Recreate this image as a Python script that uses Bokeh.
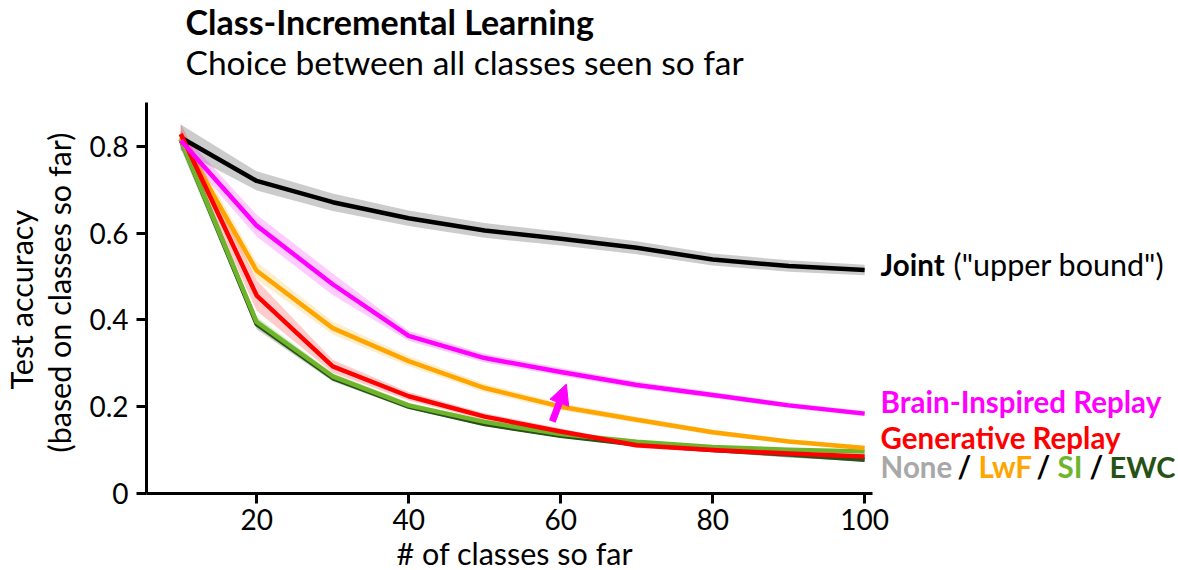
import math

from bokeh.embed import file_html
from bokeh.models import Arrow, FixedTicker, Label, NormalHead, Range1d, Title
from bokeh.plotting import figure
from bokeh.resources import INLINE

# ---- data: mean test accuracy (and shaded spread) per number of classes ----
n_classes = [10, 20, 30, 40, 50, 60, 70, 80, 90, 100]

joint_acc = [0.820, 0.720, 0.671, 0.634, 0.606, 0.587, 0.566, 0.539, 0.524, 0.515]
joint_sd = [0.030, 0.022, 0.020, 0.018, 0.017, 0.016, 0.015, 0.014, 0.013, 0.012]

none_acc = [0.815, 0.392, 0.268, 0.201, 0.161, 0.134, 0.114, 0.101, 0.088, 0.079]
none_sd = [0.020, 0.012, 0.008, 0.006, 0.005, 0.004, 0.004, 0.003, 0.003, 0.003]

ewc_acc = [0.815, 0.390, 0.266, 0.200, 0.160, 0.133, 0.113, 0.100, 0.090, 0.078]
ewc_sd = [0.020, 0.012, 0.008, 0.006, 0.005, 0.004, 0.004, 0.003, 0.003, 0.003]

si_acc = [0.815, 0.395, 0.270, 0.203, 0.165, 0.137, 0.119, 0.107, 0.101, 0.097]
si_sd = [0.020, 0.012, 0.008, 0.006, 0.005, 0.004, 0.004, 0.003, 0.003, 0.003]

lwf_acc = [0.820, 0.513, 0.381, 0.305, 0.243, 0.200, 0.170, 0.141, 0.120, 0.105]
lwf_sd = [0.020, 0.020, 0.015, 0.012, 0.010, 0.008, 0.007, 0.006, 0.005, 0.005]

gr_acc = [0.828, 0.456, 0.293, 0.224, 0.177, 0.143, 0.111, 0.100, 0.092, 0.085]
gr_sd = [0.025, 0.035, 0.015, 0.010, 0.008, 0.007, 0.006, 0.005, 0.005, 0.004]

bir_acc = [0.813, 0.617, 0.482, 0.363, 0.312, 0.280, 0.250, 0.227, 0.203, 0.184]
bir_sd = [0.020, 0.025, 0.025, 0.012, 0.010, 0.009, 0.008, 0.007, 0.006, 0.006]

x_ticks = [20, 40, 60, 80, 100]
y_ticks = [0, 0.2, 0.4, 0.6, 0.8]
y_tick_labels = ["0", "0.2", "0.4", "0.6", "0.8"]

# arrow marking the gain of brain-inspired replay (from, to)
gain_arrow = (58.9, 0.166, 60.75, 0.252)

FONT = "Lato"
BLACK = "#000000"
GREY = "#a8a8a8"
DARK_GREEN = "#275215"
GREEN = "#6fb52c"
ORANGE = "#ffa500"
RED = "#ff0000"
MAGENTA = "#ff00ff"

# the plotting frame reaches the top edge so the headings can live inside it;
# the y axis line itself stops at 0.9
p = figure(
    width=1178, height=570,
    x_range=Range1d(5.5, 141.3), y_range=Range1d(0, 1.1356),
    min_border_left=146, min_border_right=0,
    min_border_top=0, min_border_bottom=76,
    output_backend="svg", toolbar_location=None,
)
p.outline_line_color = None
p.xgrid.visible = False
p.ygrid.visible = False

# ---- axes ----
for ax in (p.xaxis[0], p.yaxis[0]):
    ax.axis_line_width = 3
    ax.axis_line_color = BLACK
    ax.major_tick_line_width = 3
    ax.major_tick_line_color = BLACK
    ax.major_tick_out = 10
    ax.major_tick_in = 0
    ax.minor_tick_line_color = None
    ax.major_label_text_font = FONT
    ax.major_label_text_font_size = "28px"
    ax.major_label_text_color = BLACK

p.xaxis.ticker = FixedTicker(ticks=x_ticks)
p.xaxis.bounds = (5.5, 101)
p.xaxis.major_label_standoff = 5
p.yaxis.ticker = FixedTicker(ticks=y_ticks)
p.yaxis.bounds = (0, 0.9)
p.yaxis.major_label_overrides = dict(zip(y_ticks, y_tick_labels))
p.yaxis.major_label_standoff = 8

# axis titles as side-panel titles, positioned along the axes
def side_title(text, side, offset, standoff=0):
    p.add_layout(Title(
        text=text, align="left", offset=offset, standoff=standoff,
        text_font=FONT, text_font_size="30.5px", text_font_style="normal",
        text_color=BLACK,
    ), side)

side_title("# of classes so far", "below", 250)
side_title("(based on classes so far)", "left", 41, standoff=20)
side_title("Test accuracy", "left", 104, standoff=-20)

# ---- curves with shaded spread ----
series = [
    (joint_acc, joint_sd, BLACK),
    (none_acc, none_sd, GREY),
    (ewc_acc, ewc_sd, DARK_GREEN),
    (si_acc, si_sd, GREEN),
    (lwf_acc, lwf_sd, ORANGE),
    (gr_acc, gr_sd, RED),
    (bir_acc, bir_sd, MAGENTA),
]
for acc, sd, color in series:
    lo = [a - s for a, s in zip(acc, sd)]
    hi = [a + s for a, s in zip(acc, sd)]
    p.varea(x=n_classes, y1=lo, y2=hi, fill_color=color, fill_alpha=0.2)
for acc, sd, color in series:
    p.line(x=n_classes, y=acc, line_color=color, line_width=4.5, line_join="round")

x0, y0, x1, y1 = gain_arrow
p.add_layout(Arrow(
    x_start=x0, y_start=y0, x_end=x1, y_end=y1,
    line_color=MAGENTA, line_width=7,
    end=NormalHead(size=20, fill_color=MAGENTA, line_color=MAGENTA, line_width=1),
))

# ---- text ----
def label(text, x, y, size, color=BLACK, bold=False, xu="data", yu="data", **kw):
    p.add_layout(Label(
        x=x, y=y, x_units=xu, y_units=yu, text=text, text_baseline="bottom",
        text_font=FONT, text_font_size=size, text_color=color,
        text_font_style="bold" if bold else "normal", **kw,
    ))

# headings
label("Class-Incremental Learning", 39, 452, "34px", bold=True, xu="screen", yu="screen")
label("Choice between all classes seen so far", 39, 412, "33.5px", xu="screen", yu="screen")

# series names at the line ends
lx = 102.1
label("Joint", lx, 0.487, "29.5px", bold=True)
label('("upper bound")', lx, 0.487, "30.5px", x_offset=73)
label("Brain-Inspired Replay", lx, 0.1705, "29.5px", color=MAGENTA, bold=True)
label("Generative Replay", lx, 0.088, "29.5px", color=RED, bold=True)
for text, color, dx, size in [
    ("None", GREY, 0, "29.5px"), ("/", BLACK, 77, "29.5px"), ("LwF", ORANGE, 98, "29.5px"),
    ("/", BLACK, 156, "29.5px"), ("SI", GREEN, 177, "29.5px"), ("/", BLACK, 209, "29.5px"),
    ("EWC", DARK_GREEN, 229, "29px"),
]:
    label(text, lx, 0.0225, size, color=color, bold=True, x_offset=dx)

open("out.html", "w").write(file_html(p, INLINE))
